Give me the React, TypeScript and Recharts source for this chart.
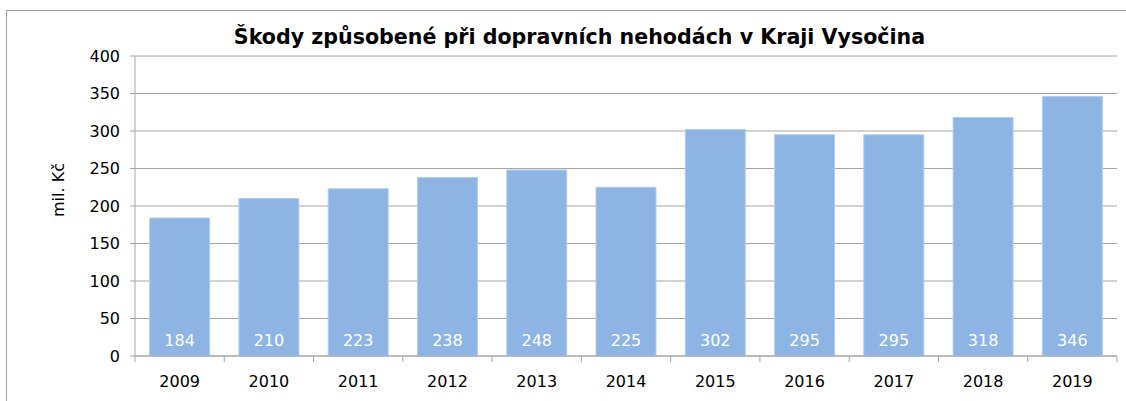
import { BarChart, Bar, XAxis, YAxis, CartesianGrid, LabelList } from 'recharts'

const years = ['2009', '2010', '2011', '2012', '2013', '2014', '2015', '2016', '2017', '2018', '2019']
const damages = [184, 210, 223, 238, 248, 225, 302, 295, 295, 318, 346]
const yTicks = [0, 50, 100, 150, 200, 250, 300, 350, 400]

const data = years.map((year, i) => ({ year, value: damages[i] }))

const font = '"DejaVu Sans", Verdana, sans-serif'
const grey = '#a6a6a6'
const X_TICK_MARGIN = 20

// category label plus tick marks on the category boundaries (Excel style)
function YearTick(props: any) {
  const { x, y, payload, index, visibleTicksCount } = props
  const half = Number(payload.offset) || 0
  const axisY = y - X_TICK_MARGIN
  const isLast = index === (visibleTicksCount ?? years.length) - 1
  return (
    <g>
      <line x1={x - half} x2={x - half} y1={axisY} y2={axisY + 6} stroke={grey} />
      {isLast && <line x1={x + half} x2={x + half} y1={axisY} y2={axisY + 6} stroke={grey} />}
      <text x={x} y={y} dy="0.71em" textAnchor="middle" fill="#000" fontSize={16} fontFamily={font}>
        {payload.value}
      </text>
    </g>
  )
}

export default function App() {
  return (
    <div
      style={{
        position: 'absolute',
        left: 0,
        top: 0,
        width: 1126,
        height: 401,
        overflow: 'hidden',
        background: '#fff',
        fontFamily: font,
      }}
    >
      <div
        style={{
          position: 'absolute',
          left: 6,
          top: 10,
          width: 1140,
          height: 420,
          border: '1px solid #a0a0a0',
        }}
      />
      <div
        style={{
          position: 'absolute',
          left: 0,
          top: 24,
          width: 1126,
          textAlign: 'center',
          fontWeight: 'bold',
          fontSize: 20.6,
          lineHeight: '26px',
          color: '#000',
          paddingLeft: 33,
          boxSizing: 'border-box',
        }}
      >
        Škody způsobené při dopravních nehodách v Kraji Vysočina
      </div>
      <div style={{ position: 'absolute', left: 0, top: 0 }}>
        <BarChart
          width={1126}
          height={401}
          data={data}
          margin={{ top: 56, right: 9, bottom: 44, left: 0 }}
          barCategoryGap="16.4%"
        >
          <CartesianGrid vertical={false} stroke={grey} />
          <XAxis
            dataKey="year"
            height={1}
            tickLine={false}
            tickSize={0}
            tickMargin={X_TICK_MARGIN}
            interval={0}
            axisLine={{ stroke: grey }}
            tick={<YearTick />}
          />
          <YAxis
            width={135}
            domain={[0, 400]}
            ticks={yTicks}
            interval={0}
            tickSize={5}
            tickMargin={10}
            axisLine={{ stroke: grey }}
            tickLine={{ stroke: grey }}
            tick={{ fill: '#000', fontSize: 16, fontFamily: font }}
            label={{
              content: () => (
                <text
                  x={58}
                  y={190}
                  transform="rotate(-90 58 190)"
                  textAnchor="middle"
                  dominantBaseline="central"
                  fontSize={16}
                  fontFamily={font}
                  fill="#000"
                >
                  mil. Kč
                </text>
              ),
            }}
          />
          <YAxis
            yAxisId="right"
            orientation="right"
            width={0}
            domain={[0, 400]}
            tick={false}
            tickLine={false}
            axisLine={{ stroke: grey }}
          />
          <Bar dataKey="value" fill="#8eb4e3" stroke="#b4cdee" strokeWidth={1} isAnimationActive={false}>
            <LabelList
              dataKey="value"
              position="insideBottom"
              offset={10}
              fill="#fff"
              fontSize={16}
              fontFamily={font}
            />
          </Bar>
        </BarChart>
      </div>
    </div>
  )
}
